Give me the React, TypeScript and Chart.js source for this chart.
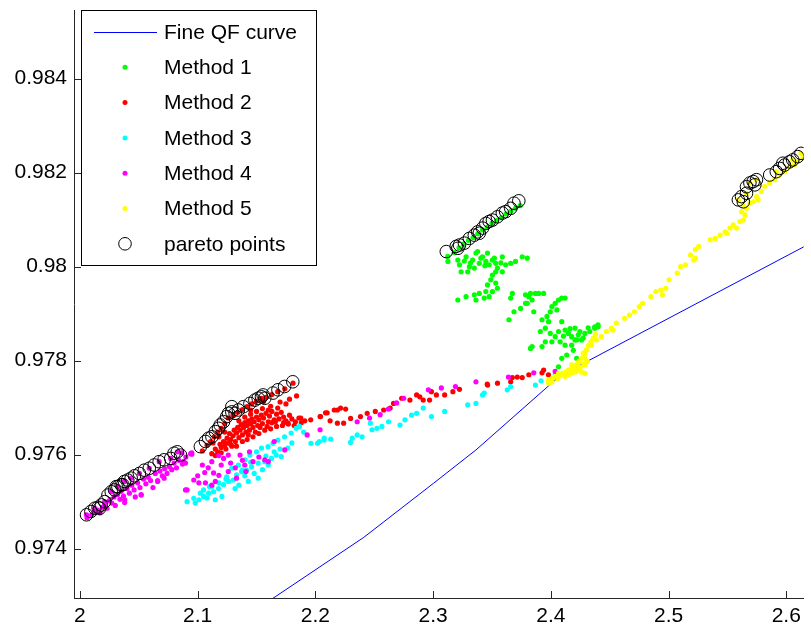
import React, { useEffect, useRef } from "react";
import { Chart, registerables } from "chart.js";

Chart.register(...registerables);

const FONT = "'Liberation Sans', Arial, Helvetica, sans-serif";
const FONT_SIZE = 21;

const xTicks = [2, 2.1, 2.2, 2.3, 2.4, 2.5, 2.6];
const xTickLabels = ["2", "2.1", "2.2", "2.3", "2.4", "2.5", "2.6"];
const yTicks = [0.974, 0.976, 0.978, 0.98, 0.982, 0.984];
const yTickLabels = ["0.974", "0.976", "0.978", "0.98", "0.982", "0.984"];
const xRange = [1.99495, 2.6148];
const yRange = [0.97295, 0.98546];

const seriesNames = ["Fine QF curve", "Method 1", "Method 2", "Method 3", "Method 4", "Method 5", "pareto points"];
const seriesColors = ["#0000ff", "#00ff00", "#ff0000", "#00ffff", "#ff00ff", "#ffff00", "#000000"];

const fineQF: number[][] = [
  [2.1346, 0.97245], [2.2411, 0.97424], [2.3003, 0.97539], [2.3364, 0.9761],
  [2.4079, 0.97768], [2.62, 0.98049],
];

const paretoA: number[][] = [
  [2.0056, 0.97472], [2.0093, 0.97479], [2.0126, 0.97486], [2.0154, 0.97488], [2.0168, 0.97486],
  [2.0182, 0.97493], [2.021, 0.975], [2.0238, 0.97514], [2.0266, 0.97521], [2.0294, 0.97525],
  [2.0308, 0.97532], [2.0322, 0.97532], [2.035, 0.97536], [2.0364, 0.97536], [2.0378, 0.97543],
  [2.0406, 0.97546], [2.0435, 0.9755], [2.0463, 0.97555], [2.0505, 0.9756], [2.0547, 0.97567],
  [2.0589, 0.97571], [2.0631, 0.97578], [2.0673, 0.97585], [2.0715, 0.97589], [2.0771, 0.97592],
  [2.0799, 0.97603], [2.0827, 0.97606], [2.0855, 0.97599],
];
const paretoB: number[][] = [
  [2.1023, 0.97617], [2.1066, 0.97628], [2.1093, 0.97635], [2.1121, 0.97638], [2.115, 0.97649],
  [2.1177, 0.97656], [2.1191, 0.97663], [2.122, 0.9767], [2.1247, 0.97681], [2.1262, 0.97688],
  [2.129, 0.97691], [2.129, 0.97702], [2.1318, 0.97688], [2.1346, 0.97695], [2.1388, 0.97702],
  [2.1444, 0.97709], [2.1486, 0.97716], [2.1514, 0.9772], [2.1542, 0.97723], [2.1556, 0.97727],
  [2.157, 0.9772], [2.164, 0.97731], [2.1682, 0.97738], [2.1738, 0.97745], [2.1808, 0.97755],
];
const paretoC: number[][] = [
  [2.3112, 0.98032], [2.3196, 0.98043], [2.321, 0.98039], [2.3224, 0.98046], [2.3266, 0.9805],
  [2.3308, 0.9806], [2.335, 0.98067], [2.3378, 0.98074], [2.3392, 0.98071], [2.342, 0.98082],
  [2.3448, 0.98092], [2.3476, 0.98096], [2.3504, 0.98099], [2.3546, 0.98106], [2.3588, 0.98114],
  [2.3616, 0.98117], [2.3659, 0.98124], [2.3687, 0.98135], [2.3728, 0.9814],
];
const paretoD: number[][] = [
  [2.5593, 0.98142], [2.562, 0.98149], [2.5635, 0.98138], [2.5662, 0.98156], [2.5662, 0.9817],
  [2.5691, 0.98178], [2.5719, 0.98181], [2.5733, 0.98174], [2.5747, 0.98185], [2.5859, 0.98195],
  [2.5915, 0.98202], [2.5943, 0.98209], [2.5971, 0.9822], [2.5985, 0.98216], [2.6027, 0.98223],
  [2.6055, 0.98227], [2.6097, 0.98234], [2.6125, 0.98241],
];

const method1: number[][] = [
  [2.3125, 0.98022], [2.318, 0.9803], [2.322, 0.9804], [2.326, 0.98048], [2.33, 0.98056],
  [2.334, 0.98062], [2.338, 0.9807], [2.342, 0.98078], [2.346, 0.98084], [2.35, 0.98092],
  [2.354, 0.98098], [2.358, 0.98104], [2.362, 0.98112], [2.366, 0.98118], [2.37, 0.98124], [2.374, 0.9813],
  [2.3126, 0.98011], [2.3224, 0.98004], [2.3238, 0.97989], [2.328, 0.98021], [2.3308, 0.98],
  [2.3336, 0.98014], [2.3364, 0.98029], [2.3378, 0.98032], [2.3392, 0.98007], [2.342, 0.98021],
  [2.3448, 0.98011], [2.3476, 0.98004], [2.3504, 0.98014], [2.3532, 0.98007], [2.3546, 0.97997],
  [2.3588, 0.98021], [2.3616, 0.98004], [2.3659, 0.98007], [2.37, 0.98011], [2.3757, 0.98021],
  [2.3799, 0.98018], [2.3294, 0.97989], [2.335, 0.97997], [2.321, 0.98014], [2.3462, 0.98029],
  [2.3504, 0.97982], [2.3532, 0.97989], [2.349, 0.97972], [2.3462, 0.97961], [2.3532, 0.97965],
  [2.3546, 0.97954], [2.3504, 0.97947], [2.3448, 0.97947], [2.3476, 0.97936], [2.3392, 0.97943],
  [2.335, 0.9794], [2.3364, 0.97929], [2.328, 0.97936], [2.321, 0.97929], [2.3434, 0.97933],
  [2.3673, 0.97943], [2.3659, 0.97933], [2.3588, 0.97989], [2.3318, 0.98008], [2.3406, 0.98018],
  [2.344, 0.98002], [2.352, 0.98018], [2.3265, 0.98012], [2.3575, 0.98008],
  [2.3785, 0.9794], [2.3827, 0.97943], [2.3841, 0.97929], [2.3799, 0.97922], [2.3869, 0.97943],
  [2.3939, 0.97943], [2.3785, 0.97922], [2.3743, 0.97911], [2.3687, 0.97904], [2.3644, 0.97887],
  [2.3855, 0.97904], [2.3925, 0.97887], [2.3967, 0.97894], [2.3981, 0.97883], [2.4009, 0.97915],
  [2.4037, 0.97922], [2.4065, 0.97929], [2.4093, 0.97933], [2.4051, 0.97908], [2.3995, 0.97904],
  [2.3813, 0.97936], [2.3897, 0.97943], [2.4121, 0.97933],
  [2.3911, 0.97862], [2.3953, 0.97869], [2.3995, 0.97858], [2.4037, 0.97851], [2.4065, 0.97862],
  [2.4093, 0.97883], [2.4121, 0.97865], [2.4149, 0.97858], [2.4177, 0.97851], [2.4205, 0.97869],
  [2.4233, 0.97855], [2.4261, 0.97844], [2.4289, 0.97858], [2.4331, 0.97862], [2.4373, 0.97869],
  [2.4401, 0.97872], [2.4079, 0.9784], [2.4121, 0.97833], [2.4009, 0.9784], [2.4177, 0.97833],
  [2.4219, 0.97844], [2.3827, 0.97826], [2.3841, 0.9783], [2.3925, 0.9783], [2.4135, 0.97812],
  [2.4219, 0.97805], [2.4093, 0.97805], [2.4065, 0.97787], [2.4177, 0.9778], [2.3953, 0.9784],
  [2.4373, 0.97872], [2.4401, 0.97876], [2.4205, 0.97844], [2.4107, 0.97852], [2.4163, 0.97868],
  [2.4247, 0.97862], [2.4191, 0.97822], [2.4275, 0.97848], [2.4317, 0.9787],
];

const method2: number[][] = [
  [2.104, 0.97608], [2.108, 0.9762], [2.111, 0.97628], [2.114, 0.97638], [2.117, 0.97648],
  [2.12, 0.97656], [2.123, 0.97666], [2.126, 0.97678], [2.13, 0.97684], [2.134, 0.9769],
  [2.138, 0.97696], [2.142, 0.97702], [2.146, 0.97708], [2.15, 0.97714], [2.154, 0.9772],
  [2.158, 0.97722], [2.163, 0.97728], [2.168, 0.97734], [2.174, 0.9774], [2.181, 0.97752],
  [2.112, 0.97602], [2.115, 0.97612], [2.117, 0.97606], [2.119, 0.97622], [2.12, 0.97615],
  [2.122, 0.97628], [2.123, 0.9762], [2.125, 0.97635], [2.126, 0.97625], [2.127, 0.97645],
  [2.128, 0.97632], [2.13, 0.9764], [2.131, 0.97652], [2.132, 0.97628], [2.133, 0.97646],
  [2.134, 0.97658], [2.135, 0.97636], [2.136, 0.97652], [2.137, 0.97664], [2.138, 0.97642],
  [2.139, 0.97658], [2.14, 0.97668], [2.141, 0.97648], [2.142, 0.97662], [2.143, 0.97672],
  [2.144, 0.97652], [2.145, 0.97666], [2.146, 0.97676], [2.147, 0.97658], [2.148, 0.9767],
  [2.15, 0.9768], [2.151, 0.97662], [2.152, 0.97674], [2.154, 0.97684], [2.155, 0.97666],
  [2.156, 0.97678], [2.158, 0.97688], [2.16, 0.9767], [2.161, 0.97682], [2.163, 0.97692],
  [2.165, 0.97674], [2.167, 0.97686], [2.169, 0.97676], [2.171, 0.9769], [2.173, 0.9768],
  [2.175, 0.97672], [2.178, 0.97684], [2.18, 0.97676], [2.183, 0.9767], [2.186, 0.97678],
  [2.124, 0.97612], [2.129, 0.97618], [2.115, 0.97598], [2.12, 0.97604],
  [2.128, 0.97622], [2.133, 0.97618], [2.138, 0.97628], [2.142, 0.97632], [2.147, 0.97638],
  [2.152, 0.97645], [2.157, 0.97652], [2.162, 0.97655], [2.167, 0.9766], [2.172, 0.97662],
  [2.177, 0.97665], [2.182, 0.97662], [2.188, 0.97668], [2.191, 0.97672], [2.135, 0.97672],
  [2.14, 0.9768], [2.145, 0.97686], [2.15, 0.97692], [2.155, 0.97698], [2.162, 0.97703],
  [2.17, 0.97712], [2.178, 0.97718], [2.184, 0.97725], [2.123, 0.97648], [2.118, 0.97638],
  [2.113, 0.97625], [2.143, 0.97642], [2.153, 0.97658], [2.163, 0.97668], [2.173, 0.97668],
  [2.149, 0.97648], [2.159, 0.9766], [2.166, 0.9767],
  [2.156, 0.97713], [2.16, 0.97695], [2.168, 0.97699], [2.175, 0.97708], [2.145, 0.97695],
  [2.1766, 0.97667], [2.1876, 0.97678], [2.196, 0.97674], [2.204, 0.97681], [2.2086, 0.97689],
  [2.2044, 0.97681], [2.21, 0.97689], [2.216, 0.97695], [2.2214, 0.97699], [2.2257, 0.97697],
  [2.2187, 0.97667], [2.224, 0.97667], [2.2299, 0.97677], [2.2383, 0.97681], [2.244, 0.97688],
  [2.2509, 0.97692], [2.258, 0.97695], [2.2664, 0.97709], [2.2635, 0.97699], [2.2733, 0.9772],
  [2.2803, 0.97716], [2.286, 0.97727], [2.2887, 0.97723], [2.2916, 0.97716], [2.2986, 0.97734],
  [2.3028, 0.97727], [2.297, 0.97716], [2.3098, 0.97727], [2.3168, 0.97734], [2.3224, 0.97739],
  [2.3463, 0.97748], [2.3547, 0.97752], [2.3659, 0.97755], [2.3715, 0.97765], [2.3813, 0.9777],
  [2.3925, 0.97774], [2.398, 0.9777], [2.3939, 0.9778], [2.3757, 0.97764], [2.3673, 0.97764],
  [2.346, 0.9775], [2.2187, 0.97695], [2.2125, 0.97672],
];

const method3: number[][] = [
  [2.091, 0.975], [2.0967, 0.97507], [2.101, 0.97504], [2.105, 0.97511], [2.1093, 0.97518],
  [2.1023, 0.97518], [2.1135, 0.97521], [2.1177, 0.97528], [2.1121, 0.97532], [2.122, 0.97536],
  [2.1262, 0.97543], [2.1303, 0.97546], [2.1247, 0.97553], [2.1331, 0.97557], [2.1373, 0.97564],
  [2.1416, 0.97567], [2.1458, 0.97574], [2.1514, 0.97582], [2.157, 0.97585], [2.1626, 0.97592],
  [2.1668, 0.97599], [2.129, 0.97571], [2.1346, 0.97578], [2.1402, 0.97589], [2.1444, 0.97599],
  [2.15, 0.97606], [2.1542, 0.97614], [2.1598, 0.97617], [2.164, 0.97624], [2.1682, 0.97631],
  [2.1738, 0.97638], [2.1794, 0.97646], [2.1836, 0.97656], [2.1864, 0.9766], [2.1514, 0.9755],
  [2.143, 0.97543], [2.1318, 0.97528], [2.171, 0.97596], [2.1766, 0.97614], [2.1962, 0.97624],
  [2.2018, 0.97624], [2.2074, 0.97631], [2.1206, 0.97511], [2.115, 0.97504],
  [2.105, 0.97525], [2.11, 0.97532], [2.118, 0.9754], [2.124, 0.97548], [2.135, 0.97535],
  [2.14, 0.97555], [2.148, 0.9756], [2.155, 0.97568], [2.16, 0.97578], [2.17, 0.97612],
  [2.158, 0.97597], [2.145, 0.97584], [2.138, 0.97567], [2.165, 0.97606], [2.18, 0.97625],
  [2.19, 0.97648], [2.098, 0.97497], [2.108, 0.97508],
  [2.2033, 0.97628], [2.2075, 0.97635], [2.213, 0.97633], [2.2313, 0.97635], [2.2355, 0.97642],
  [2.2397, 0.97638], [2.2481, 0.97653], [2.2523, 0.97656], [2.2467, 0.97667], [2.2565, 0.9766],
  [2.2621, 0.9767], [2.2719, 0.97663], [2.2761, 0.97674], [2.2817, 0.97684], [2.286, 0.97688],
  [2.2916, 0.97699], [2.2986, 0.97681], [2.3098, 0.97692], [2.3294, 0.97706], [2.3364, 0.97709],
  [2.342, 0.97727], [2.3434, 0.97731], [2.363, 0.97738], [2.3659, 0.97745], [2.3869, 0.97748],
  [2.3917, 0.97757], [2.4037, 0.9777], [2.2299, 0.97626],
];

const method4: number[][] = [
  [2.006, 0.97466], [2.01, 0.97472], [2.012, 0.97478], [2.015, 0.97482], [2.017, 0.97476],
  [2.019, 0.97488], [2.021, 0.97494], [2.023, 0.97486], [2.025, 0.97502], [2.027, 0.97497],
  [2.029, 0.9751], [2.03, 0.97492], [2.032, 0.97515], [2.034, 0.97505], [2.035, 0.97522],
  [2.037, 0.97512], [2.038, 0.97498], [2.04, 0.97528], [2.042, 0.97518], [2.044, 0.97535],
  [2.046, 0.97525], [2.047, 0.9751], [2.049, 0.9754], [2.051, 0.9753], [2.052, 0.97515],
  [2.054, 0.97548], [2.056, 0.97538], [2.058, 0.97552], [2.06, 0.97545], [2.062, 0.9753],
  [2.064, 0.9756], [2.066, 0.97545], [2.068, 0.97565], [2.07, 0.97555], [2.072, 0.9757],
  [2.074, 0.9756], [2.076, 0.97575], [2.078, 0.97568], [2.08, 0.97582], [2.082, 0.97572],
  [2.084, 0.97588], [2.087, 0.9758], [2.09, 0.97595], [2.094, 0.97602],
  [2.0056, 0.97472], [2.0126, 0.97486], [2.021, 0.975], [2.0266, 0.97521], [2.0322, 0.97532],
  [2.0378, 0.97543], [2.0435, 0.9755], [2.0505, 0.9756], [2.0589, 0.97571], [2.0673, 0.97585],
  [2.0771, 0.97592], [2.0827, 0.97606], [2.038, 0.97504], [2.052, 0.97514], [2.066, 0.97543],
  [2.0715, 0.9755], [2.088, 0.97585], [2.095, 0.97604],
  [2.0866, 0.97604], [2.095, 0.97601], [2.0897, 0.97582], [2.0967, 0.97546], [2.091, 0.97525],
  [2.112, 0.97585], [2.109, 0.97572], [2.12, 0.97578], [2.118, 0.97556], [2.1135, 0.97561],
  [2.126, 0.97599], [2.136, 0.97599], [2.126, 0.97564], [2.132, 0.97572], [2.133, 0.9755],
  [2.14, 0.97578], [2.144, 0.97606], [2.147, 0.97585], [2.141, 0.97564], [2.115, 0.97543],
  [2.1066, 0.9754], [2.101, 0.9754], [2.112, 0.97535], [2.157, 0.97589], [2.165, 0.97628],
  [2.174, 0.9761], [2.193, 0.97642], [2.204, 0.97653], [2.16, 0.97585], [2.0897, 0.97525],
  [2.106, 0.97562], [2.122, 0.97592], [2.128, 0.97582], [2.138, 0.97588], [2.152, 0.97595],
  [2.118, 0.97598], [2.1, 0.97555], [2.104, 0.97578],
  [2.2355, 0.9767], [2.246, 0.97678], [2.255, 0.97685], [2.262, 0.97697], [2.269, 0.9771],
  [2.275, 0.9772], [2.296, 0.97738], [2.307, 0.97742], [2.319, 0.97745], [2.3364, 0.97755],
  [2.364, 0.97765], [2.3855, 0.97774], [2.4037, 0.97777],
];

const method5: number[][] = [
  [2.398, 0.97759], [2.401, 0.97762], [2.404, 0.97766], [2.406, 0.97762], [2.408, 0.97769],
  [2.41, 0.97773], [2.412, 0.97766], [2.413, 0.97776], [2.415, 0.9777], [2.416, 0.9778],
  [2.418, 0.97774], [2.419, 0.97783], [2.42, 0.97787], [2.421, 0.97776], [2.422, 0.97792],
  [2.423, 0.9778], [2.424, 0.97799], [2.425, 0.97786], [2.426, 0.97776], [2.427, 0.97806],
  [2.428, 0.97792], [2.429, 0.97815], [2.43, 0.97822], [2.431, 0.97798], [2.432, 0.97832],
  [2.434, 0.9784], [2.436, 0.97848], [2.438, 0.97856],
  [2.4121, 0.97773], [2.4205, 0.9778], [2.4247, 0.97798], [2.4275, 0.97816], [2.4303, 0.97823],
  [2.4289, 0.97773], [2.4037, 0.97766], [2.4065, 0.97773], [2.4149, 0.9778], [2.4177, 0.97791],
  [2.4009, 0.97759], [2.3981, 0.97752], [2.429, 0.97805], [2.4527, 0.97865], [2.4009, 0.97755],
  [2.429, 0.97791],
  [2.4345, 0.97833], [2.4387, 0.97844], [2.443, 0.97851], [2.4472, 0.97862], [2.4514, 0.97869],
  [2.4556, 0.9788], [2.4626, 0.9789], [2.4668, 0.97897], [2.471, 0.97904], [2.4752, 0.97915],
  [2.478, 0.97922], [2.485, 0.97936], [2.4892, 0.97947], [2.4934, 0.9795], [2.4976, 0.97954],
  [2.4948, 0.9794], [2.5004, 0.97972], [2.5074, 0.97986], [2.5102, 0.98], [2.5144, 0.98004],
  [2.5186, 0.98025], [2.5228, 0.98036], [2.5256, 0.98043], [2.5214, 0.98014], [2.5228, 0.98018],
  [2.5354, 0.98057], [2.5396, 0.9806], [2.5438, 0.98067], [2.548, 0.98074], [2.5522, 0.98082],
  [2.555, 0.98089], [2.5494, 0.98071], [2.5578, 0.98082], [2.5606, 0.98096], [2.5634, 0.98099],
  [2.5649, 0.9811], [2.562, 0.98117], [2.5662, 0.98124], [2.5634, 0.98131], [2.5691, 0.98135],
  [2.5719, 0.98138], [2.5761, 0.98142], [2.5747, 0.98149], [2.5789, 0.9816], [2.5817, 0.98171],
  [2.5859, 0.98178], [2.5901, 0.98185], [2.5943, 0.98195], [2.5985, 0.98202], [2.6027, 0.98213],
  [2.6069, 0.98217], [2.6097, 0.98224], [2.614, 0.98231],
  [2.5593, 0.98142], [2.5662, 0.98156], [2.5691, 0.98178], [2.5747, 0.98185], [2.5915, 0.98202],
  [2.6055, 0.98227], [2.6125, 0.98241],
];

const pareto: number[][] = [...paretoA, ...paretoB, ...paretoC, ...paretoD];

const toPts = (arr: number[][]) => arr.map(([x, y]) => ({ x, y }));

const AXIS_COLOR = "#262626";

const tickMarksPlugin = {
  id: "insideTicks",
  afterDraw(chart: any) {
    const { ctx, chartArea } = chart;
    const xs = chart.scales.x;
    const ys = chart.scales.y;
    ctx.save();
    ctx.strokeStyle = AXIS_COLOR;
    ctx.lineWidth = 1;
    ctx.beginPath();
    xTicks.forEach((v) => {
      const px = Math.round(xs.getPixelForValue(v)) + 0.5;
      if (px > chartArea.right + 1) return;
      ctx.moveTo(px, chartArea.bottom);
      ctx.lineTo(px, chartArea.bottom - 7);
    });
    yTicks.forEach((v) => {
      const py = Math.round(ys.getPixelForValue(v)) + 0.5;
      ctx.moveTo(chartArea.left, py);
      ctx.lineTo(chartArea.left + 7, py);
    });
    ctx.stroke();
    ctx.restore();
  },
};

const legendPlugin = {
  id: "boxLegend",
  afterDraw(chart: any) {
    const ctx = chart.ctx;
    ctx.save();
    const bx = 81.5, by = 10.5, bw = 235, bh = 255;
    ctx.fillStyle = "#ffffff";
    ctx.fillRect(bx, by, bw, bh);
    ctx.strokeStyle = "#000000";
    ctx.lineWidth = 1;
    ctx.strokeRect(bx, by, bw, bh);
    ctx.font = `${FONT_SIZE}px ${FONT}`;
    ctx.textBaseline = "middle";
    ctx.textAlign = "left";
    seriesNames.forEach((name, i) => {
      const y = 32 + i * 35.3;
      const c = seriesColors[i];
      if (i === 0) {
        ctx.strokeStyle = c;
        ctx.lineWidth = 1;
        ctx.beginPath();
        ctx.moveTo(94, Math.round(y) + 0.5);
        ctx.lineTo(157, Math.round(y) + 0.5);
        ctx.stroke();
      } else if (i === seriesNames.length - 1) {
        ctx.strokeStyle = c;
        ctx.lineWidth = 1;
        ctx.beginPath();
        ctx.arc(125, y, 6.3, 0, Math.PI * 2);
        ctx.stroke();
      } else {
        ctx.fillStyle = c;
        ctx.beginPath();
        ctx.arc(125, y, 2.5, 0, Math.PI * 2);
        ctx.fill();
      }
      ctx.fillStyle = "#000000";
      ctx.fillText(name, 164, y + 1);
    });
    ctx.restore();
  },
};

export default function App() {
  const ref = useRef<HTMLCanvasElement | null>(null);
  useEffect(() => {
    if (!ref.current) return;
    const dot = (i: number, data: number[][], order: number) => ({
      type: "scatter" as const,
      label: seriesNames[i],
      data: toPts(data),
      backgroundColor: seriesColors[i],
      borderColor: seriesColors[i],
      pointRadius: 2.6,
      pointBorderWidth: 0,
      pointHoverRadius: 2.6,
      order,
    });
    const chart = new Chart(ref.current, {
      type: "scatter",
      data: {
        datasets: [
          {
            type: "scatter",
            label: seriesNames[6],
            data: toPts(pareto),
            backgroundColor: "rgba(0,0,0,0)",
            borderColor: "#000000",
            pointRadius: 6.3,
            pointBorderWidth: 1,
            order: 0,
          },
          dot(5, method5, 1),
          dot(4, method4, 2),
          dot(3, method3, 3),
          dot(2, method2, 4),
          dot(1, method1, 5),
          {
            type: "line",
            label: seriesNames[0],
            data: toPts(fineQF),
            borderColor: seriesColors[0],
            borderWidth: 1,
            pointRadius: 0,
            fill: false,
            tension: 0,
            order: 6,
          } as any,
        ],
      },
      options: {
        responsive: false,
        animation: false,
        events: [],
        layout: { padding: { top: 10, left: 0, right: 0, bottom: 0 } },
        plugins: { legend: { display: false }, tooltip: { enabled: false } },
        scales: {
          x: {
            type: "linear",
            min: xRange[0],
            max: xRange[1],
            grid: { display: false, drawTicks: false },
            border: { display: true, color: AXIS_COLOR, width: 1 },
            afterBuildTicks: (s: any) => {
              s.ticks = xTicks.map((v) => ({ value: v }));
            },
            afterFit: (s: any) => {
              s.height = 29;
              s.paddingLeft = 0;
              s.paddingRight = 0;
            },
            ticks: {
              autoSkip: false,
              maxRotation: 0,
              padding: 6,
              color: "#000000",
              font: { family: FONT, size: FONT_SIZE },
              callback: (v: any) => {
                const i = xTicks.findIndex((t) => Math.abs(t - Number(v)) < 1e-9);
                return i >= 0 ? xTickLabels[i] : "";
              },
            },
          },
          y: {
            type: "linear",
            min: yRange[0],
            max: yRange[1],
            grid: { display: false, drawTicks: false },
            border: { display: true, color: AXIS_COLOR, width: 1 },
            afterBuildTicks: (s: any) => {
              s.ticks = yTicks.map((v) => ({ value: v }));
            },
            afterFit: (s: any) => {
              s.width = 74;
              s.paddingTop = 0;
              s.paddingBottom = 0;
            },
            ticks: {
              autoSkip: false,
              padding: 7,
              color: "#000000",
              font: { family: FONT, size: FONT_SIZE },
              callback: (v: any) => {
                const i = yTicks.findIndex((t) => Math.abs(t - Number(v)) < 1e-9);
                return i >= 0 ? yTickLabels[i] : "";
              },
            },
          },
        },
      },
      plugins: [tickMarksPlugin, legendPlugin],
    });
    return () => chart.destroy();
  }, []);
  return (
    <div style={{ position: "absolute", left: 0, top: 0, width: 811, height: 627, background: "#fff" }}>
      <canvas ref={ref} width={811} height={627} style={{ display: "block" }} />
    </div>
  );
}
